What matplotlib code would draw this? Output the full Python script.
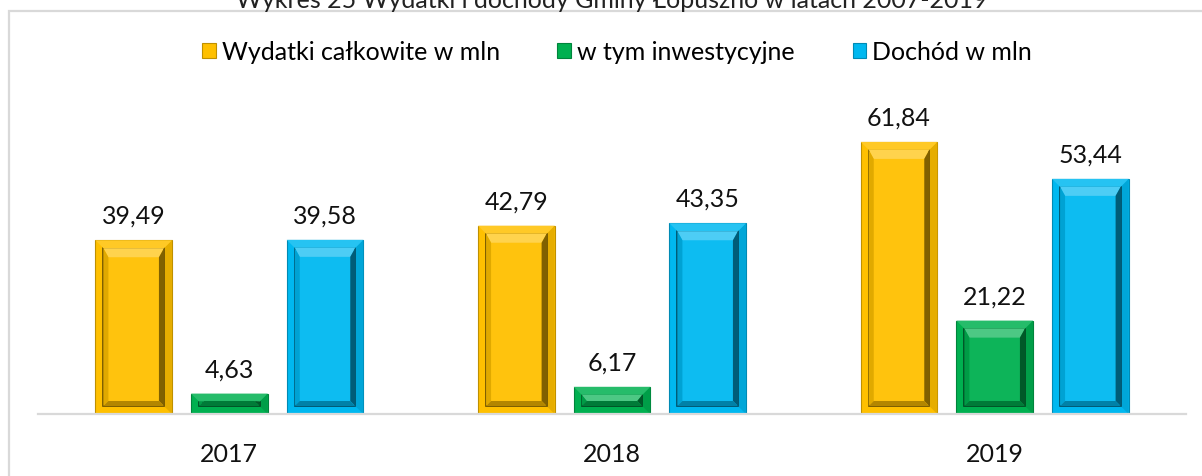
import numpy as np
import matplotlib.pyplot as plt
from matplotlib.patches import Polygon, Rectangle
from matplotlib.colors import to_rgb

years = ['2017', '2018', '2019']
wydatki = [39.49, 42.79, 61.84]
inwestycyjne = [4.63, 6.17, 21.22]
dochod = [39.58, 43.35, 53.44]

series = ['Wydatki całkowite w mln', 'w tym inwestycyjne', 'Dochód w mln']
colors = ['#FFC000', '#00B050', '#00B8F0']
title = 'Wykres 25 Wydatki i dochody Gminy Łopuszno w latach 2007-2019'

plt.rcParams['font.family'] = ['Lato', 'DejaVu Sans']


def shade(c, f):
    # f > 0 -> toward white, f < 0 -> toward black
    r = np.array(to_rgb(c))
    if f >= 0:
        return tuple(r + (1 - r) * f)
    return tuple(r * (1 + f))


W, H = 1202, 477
fig = plt.figure(figsize=(W / 100, H / 100), dpi=100)
ax = fig.add_axes([38 / W, 62 / H, (1186 - 38) / W, 308 / H])

# chart frame (runs off the right and bottom edges like the original)
fig.add_artist(Rectangle((9 / W, -0.1), 1.2, 1 - 12 / H + 0.1, transform=fig.transFigure,
                         fill=False, edgecolor='#d9d9d9', linewidth=1.6))
fig.text(0.509, 1.0, title, ha='center', va='center', fontsize=18, color='#222222')

x = np.arange(len(years))
width = 0.2
step = 0.25
ax.set_xlim(-0.5, 2.5)
ax.set_ylim(0, 70)

sx, sy = ax.transData.transform([(1, 1)])[0] - ax.transData.transform([(0, 0)])[0]

for i, (vals, col, name) in enumerate(zip([wydatki, inwestycyjne, dochod], colors, series)):
    bars = ax.bar(x + (i - 1) * step, vals, width, color=col, edgecolor=shade(col, -0.25),
                  linewidth=0.8, label=name, zorder=2)
    for b in bars:
        x0, w, h = b.get_x(), b.get_width(), b.get_height()
        x1 = x0 + w
        p = 8 / sx          # panel inset, data units
        py = 8 / sy
        bx = 5 / sx         # bevel width sides
        bt = 9 / sy         # bevel top
        bb = 5 / sy
        px0, px1, py0, py1 = x0 + p, x1 - p, py, h - py
        if py1 - py0 < 2 / sy:
            py1 = py0 + 2 / sy
        ax.add_patch(Rectangle((px0, py0), px1 - px0, py1 - py0, facecolor=shade(col, 0.05),
                               edgecolor=shade(col, -0.6), linewidth=1.2, zorder=3))
        ix0, ix1 = px0 + bx, px1 - bx
        iy0, iy1 = py0 + bb, max(py1 - bt, py0 + bb)
        # top bevel (light)
        ax.add_patch(Polygon([(px0, py1), (px1, py1), (ix1, iy1), (ix0, iy1)],
                             facecolor=shade(col, 0.3), edgecolor='none', zorder=4))
        # left bevel
        ax.add_patch(Polygon([(px0, py0), (px0, py1), (ix0, iy1), (ix0, iy0)],
                             facecolor=shade(col, -0.12), edgecolor='none', zorder=4))
        # right bevel (dark)
        ax.add_patch(Polygon([(px1, py0), (px1, py1), (ix1, iy1), (ix1, iy0)],
                             facecolor=shade(col, -0.5), edgecolor='none', zorder=4))
        # bottom bevel
        ax.add_patch(Polygon([(px0, py0), (px1, py0), (ix1, iy0), (ix0, iy0)],
                             facecolor=shade(col, -0.3), edgecolor='none', zorder=4))
        # outer top highlight
        ax.add_patch(Polygon([(x0, h), (x1, h), (px1, py1), (px0, py1)],
                             facecolor=shade(col, 0.15), edgecolor='none', zorder=3))
        ax.add_patch(Polygon([(x1, 0), (x1, h), (px1, py1), (px1, py0)],
                             facecolor=shade(col, -0.1), edgecolor='none', zorder=2.5))
        ax.annotate(f'{h:.2f}'.replace('.', ','), (x0 + w / 2, h), xytext=(0, 18),
                    textcoords='offset points', ha='center', va='center',
                    fontsize=18, color='#111111')

ax.set_xticks(x)
ax.set_xticklabels(years, fontsize=18, color='#111111')
ax.tick_params(axis='x', length=0, pad=20)
ax.set_yticks([])
for s in ['top', 'right', 'left']:
    ax.spines[s].set_visible(False)
ax.spines['bottom'].set_color('#d9d9d9')
ax.spines['bottom'].set_linewidth(1.6)

ax.legend(loc='center', bbox_to_anchor=(617 / W, 1 - 53 / H), bbox_transform=fig.transFigure,
          ncol=3, frameon=False, fontsize=18, handlelength=0.55, handleheight=0.55,
          handletextpad=0.25, columnspacing=2.3)

fig.savefig('out.png', dpi=100)
